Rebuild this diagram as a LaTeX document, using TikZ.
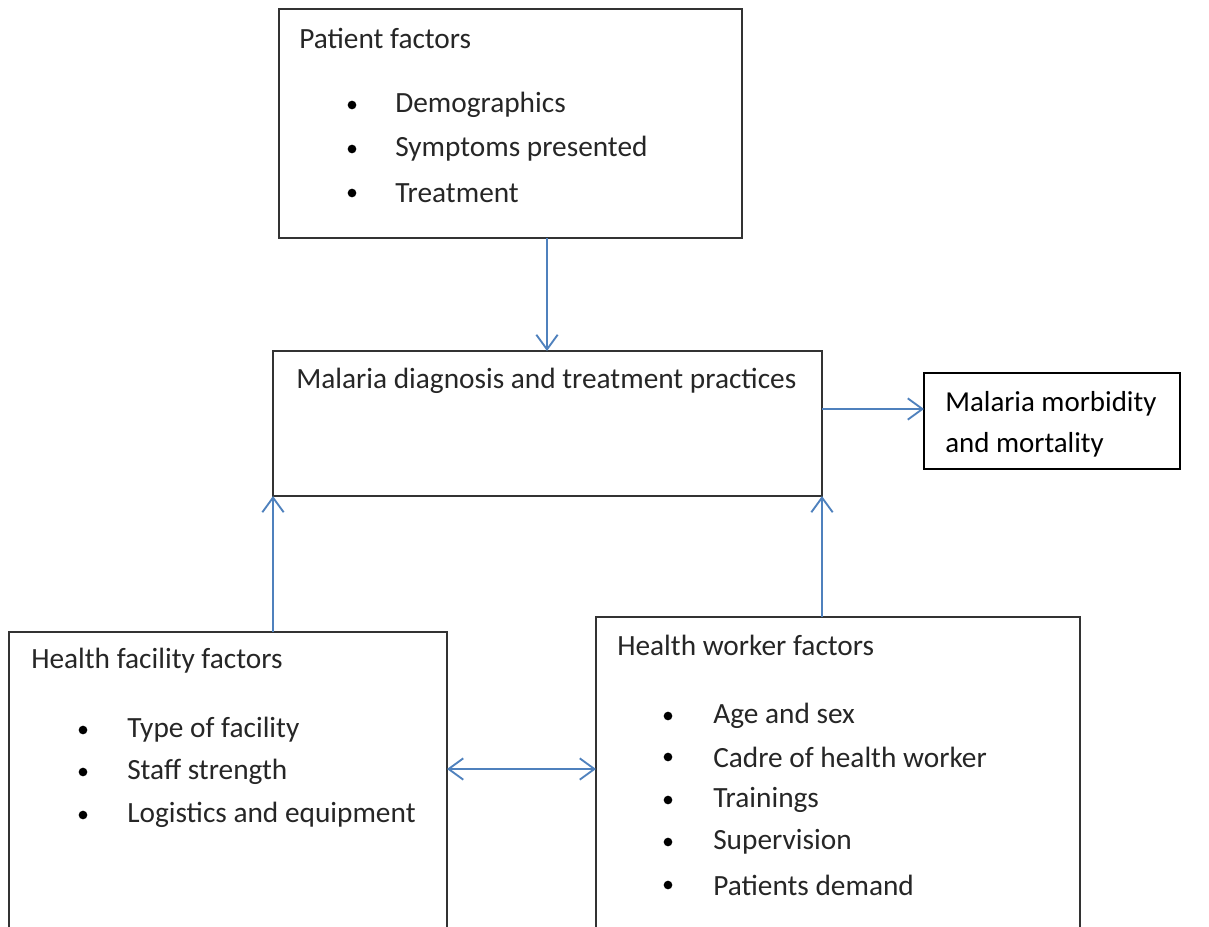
\documentclass[tikz,border=0pt]{standalone}
\usepackage{fontspec}
\setmainfont{Carlito}
\usetikzlibrary{arrows.meta}
\definecolor{flowblue}{RGB}{79,129,189}

\tikzset{
  box/.style={draw=black!80, line width=1.5pt, anchor=north west, outer sep=0pt, inner sep=0pt},
  outbox/.style={draw=black, line width=0.9pt, anchor=north west, outer sep=0pt, inner sep=0pt},
  flow/.style={draw=flowblue, line width=1.4pt, -{Straight Barb[length=11pt,width=16pt]}},
  txt/.style={anchor=west, inner sep=0pt, text=black!85, font=\fontsize{22}{26}\selectfont},
  bigtxt/.style={anchor=west, inner sep=0pt, text=black, font=\fontsize{21.7}{26}\selectfont},
  dot/.style={circle, fill=black, inner sep=0pt, minimum size=6.5pt},
}

\begin{document}
\begin{tikzpicture}[x=0.75pt,y=-0.75pt]
            \clip (0,0) rectangle (1209,927);

            % Boxes
            \node[box, minimum width=347.25pt, minimum height=171.75pt] (patient) at (279,9) {};
            \node[box, minimum width=411.75pt, minimum height=108.75pt] (diag) at (273,351) {};
            \node[outbox, minimum width=192pt, minimum height=72pt] (outc) at (924,373) {};
            \node[box, minimum width=328.5pt, minimum height=246pt] (facility) at (9,632) {};
            \node[box, minimum width=363pt, minimum height=257.25pt] (worker) at (596,617) {};

            % Patient factors
            \node[txt] (pt) at (299,38) {Patient factors};
            \node[dot] (pd1) at (352,105) {};
            \node[dot] (pd2) at (352,149) {};
            \node[dot] (pd3) at (352,193) {};
            \node[txt] (pi1) at (395,105) {Demographics};
            \node[txt] (pi2) at (395,149) {Symptoms presented};
            \node[txt] (pi3) at (395,193) {Treatment};

            % Diagnosis and outcome
            \node[txt] (dt) at (296,381) {Malaria diagnosis and treatment practices};
            \node[bigtxt] (ot1) at (945,404) {Malaria morbidity};
            \node[bigtxt] (ot2) at (945,445) {and mortality};

            % Health facility factors
            \node[txt] (ft) at (31,661) {Health facility factors};
            \node[dot] (fd1) at (83,730) {};
            \node[dot] (fd2) at (83,772) {};
            \node[dot] (fd3) at (83,815) {};
            \node[txt] (fi1) at (127,730) {Type of facility};
            \node[txt] (fi2) at (127,772) {Staff strength};
            \node[txt] (fi3) at (127,815) {Logistics and equipment};

            % Health worker factors
            \node[txt] (wt) at (617,645) {Health worker factors};
            \node[dot] (wd1) at (668,716) {};
            \node[dot] (wd2) at (668,757) {};
            \node[dot] (wd3) at (668,800) {};
            \node[dot] (wd4) at (668,842) {};
            \node[dot] (wd5) at (668,885) {};
            \node[txt] (wi1) at (713,716) {Age and sex};
            \node[txt] (wi2) at (713,757) {Cadre of health worker};
            \node[txt] (wi3) at (713,800) {Trainings};
            \node[txt] (wi4) at (713,842) {Supervision};
            \node[txt] (wi5) at (713,885) {Patients demand};

            % Arrows
            \coordinate (pa) at (547,0);
            \coordinate (da) at (0,409);
            \coordinate (ha) at (0,769);
            \draw[flow] (patient.south -| pa) -- (diag.north -| pa);
            \draw[flow] (diag.east |- da) -- (outc.west |- da);
            \draw[flow] (facility.north -| diag.south west) -- (diag.south west);
            \draw[flow] (worker.north -| diag.south east) -- (diag.south east);
            \draw[flow, {Straight Barb[length=11pt,width=16pt]}-{Straight Barb[length=11pt,width=16pt]}] (facility.east |- ha) -- (worker.west |- ha);
        \end{tikzpicture}
\end{document}
